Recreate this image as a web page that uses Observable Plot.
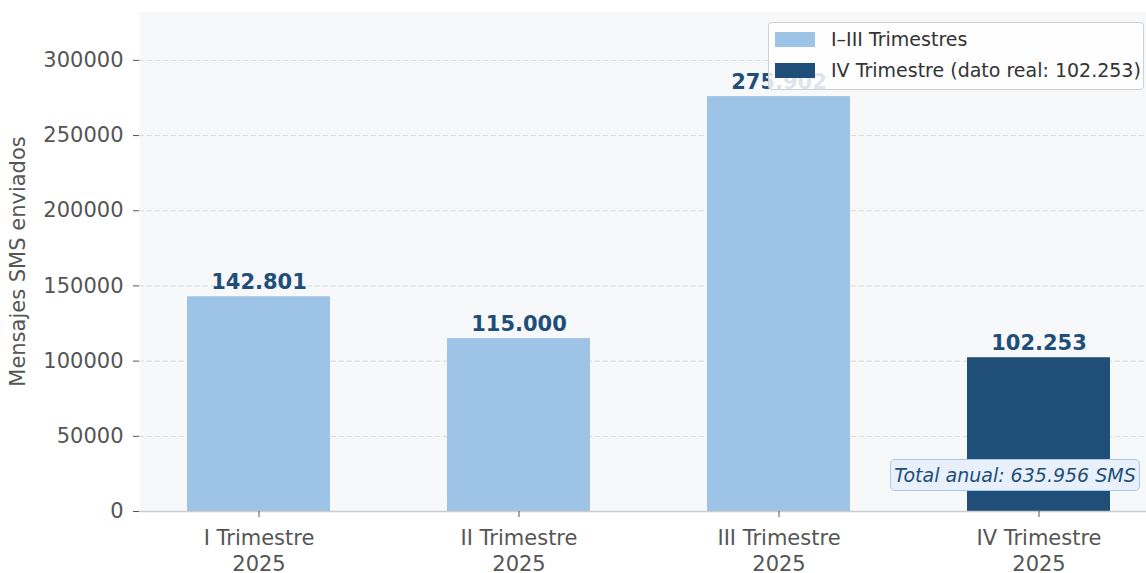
<!DOCTYPE html>
<html>
<head>
<meta charset="utf-8">
<script src="https://cdn.jsdelivr.net/npm/d3@7"></script>
<script src="https://cdn.jsdelivr.net/npm/@observablehq/plot@0.6"></script>
<style>
  html, body { margin: 0; padding: 0; background: #ffffff; }
  body { width: 1146px; height: 573px; overflow: hidden; font-family: "DejaVu Sans", sans-serif; }
  #wrap { position: relative; width: 1146px; height: 573px; }
  #legend {
    position: absolute; left: 768px; top: 22px; width: 374px; height: 66px;
    background: rgba(255,255,255,0.85); border: 1px solid #d0d0d0; border-radius: 4px;
    font-size: 19px; color: #333;
  }
  .row { position: absolute; left: 6px; height: 22px; display: flex; align-items: center; white-space: nowrap; }
  .sw { width: 40px; height: 15px; margin-right: 16px; }
  #note {
    position: absolute; left: 890px; top: 459px; width: 250px; height: 32px;
    background: #e8f1fb; border: 1.5px solid #a9c9ea; border-radius: 5px;
    font-size: 19px; font-style: italic; color: #1f4e79;
    display: flex; align-items: center; justify-content: center; white-space: nowrap; box-sizing: border-box;
  }
</style>
</head>
<body>
<div id="wrap"></div>
<script>
const categories = ["I Trimestre\n2025", "II Trimestre\n2025", "III Trimestre\n2025", "IV Trimestre\n2025"];
const values = [142801, 115000, 275902, 102253];
const groups = ["I–III Trimestres", "I–III Trimestres", "I–III Trimestres", "IV Trimestre (dato real: 102.253)"];
const labels = ["142.801", "115.000", "275.902", "102.253"];
const yTicks = [0, 50000, 100000, 150000, 200000, 250000, 300000];
const legendItems = ["I–III Trimestres", "IV Trimestre (dato real: 102.253)"];
const legendColors = ["#9dc3e6", "#1f4e79"];
const totalText = "Total anual: 635.956 SMS";
const yLabel = "Mensajes SMS enviados";

const data = categories.map((c, i) => ({cat: c, value: values[i], group: groups[i], label: labels[i]}));

const chart = Plot.plot({
  width: 1146,
  height: 573,
  marginLeft: 139,
  marginRight: 0,
  marginTop: 11,
  marginBottom: 62,
  style: {fontFamily: "DejaVu Sans, sans-serif", background: "transparent", overflow: "visible"},
  x: {domain: categories, range: [139, 1158], paddingInner: 0.45, paddingOuter: 0.1846, label: null},
  y: {domain: [0, 332500], label: null},
  color: {domain: legendItems, range: legendColors},
  marks: [
    Plot.frame({fill: "#f7f8fa", stroke: null}),
    Plot.ruleY(yTicks, {stroke: "#d9d9d9", strokeDasharray: "5,3", strokeWidth: 1}),
    Plot.barY(data, {x: "cat", y: "value", fill: "group"}),
    Plot.ruleX([0], {x: () => 139, stroke: "#cccccc", strokeWidth: 1.5}),
    Plot.ruleY([0], {stroke: "#cccccc", strokeWidth: 1.5}),
    Plot.text(data, {x: "cat", y: "value", text: "label", fill: "#1f4e79", fontWeight: "bold",
      fontSize: 21, lineAnchor: "bottom", dy: -8}),
    Plot.axisY({ticks: yTicks, tickFormat: d => String(d), tickSize: 6, tickPadding: 10,
      fontSize: 21, color: "#555555", stroke: "#555555", label: null}),
    Plot.axisX({tickSize: 6, tickPadding: 10, fontSize: 21, color: "#555555", label: null,
      lineHeight: 1.2}),
    Plot.text([yLabel], {frameAnchor: "left", rotate: -90, dx: -121, textAnchor: "middle",
      fontSize: 21, fill: "#555555"})
  ]
});

const wrap = document.getElementById("wrap");
wrap.appendChild(chart);

const legend = document.createElement("div");
legend.id = "legend";
legendItems.forEach((name, i) => {
  const row = document.createElement("div");
  row.className = "row";
  row.style.top = (i === 0 ? 5 : 36) + "px";
  const sw = document.createElement("span");
  sw.className = "sw";
  sw.style.background = legendColors[i];
  const t = document.createElement("span");
  t.textContent = name;
  row.appendChild(sw);
  row.appendChild(t);
  legend.appendChild(row);
});
wrap.appendChild(legend);

const note = document.createElement("div");
note.id = "note";
note.textContent = totalText;
wrap.appendChild(note);
</script>
</body>
</html>
